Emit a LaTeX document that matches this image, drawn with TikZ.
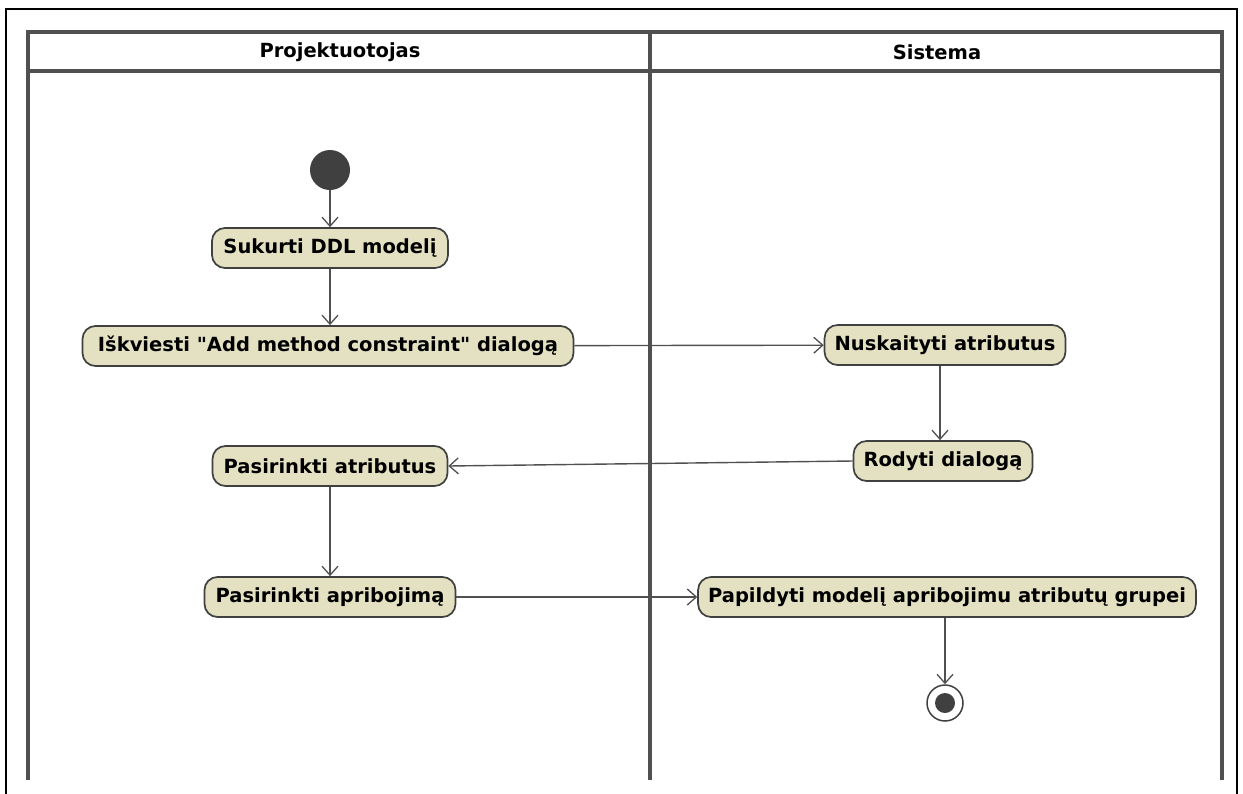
\documentclass[tikz,border=0pt]{standalone}
\usepackage{fontspec}
\setmainfont{DejaVu Sans}
\usetikzlibrary{arrows.meta}
% straight double quote, set as a glyph so no text mapping curls it
\newcommand\straightdq{\XeTeXglyph\XeTeXcharglyph"22\relax}
\definecolor{lane}{HTML}{505050}
\definecolor{actfill}{HTML}{E3E1C2}
\definecolor{actline}{HTML}{404040}
\definecolor{dot}{HTML}{404040}
\tikzset{
  act/.style={draw=actline, line width=1.7pt, fill=actfill, rounded corners=13pt,
    minimum height=40pt, inner xsep=10pt, inner ysep=0pt,
    font=\fontsize{19.5}{22}\selectfont\bfseries},
  flow/.style={draw=lane, line width=1.4pt, -{Straight Barb[length=9pt,width=16pt,line width=1.3pt]}},
  lanehead/.style={font=\fontsize{19.5}{22}\selectfont\bfseries}
}
\begin{document}
\begin{tikzpicture}[x=1pt,y=-1pt]
\useasboundingbox (0,0) rectangle (1243,793);
\fill[white] (0,0) rectangle (1243,793);
% outer frame
\draw[line width=2.5pt, black] (6,795) -- (6,9) -- (1237,9) -- (1237,795);
% swimlanes
\draw[lane, line width=3.5pt] (28,780) -- (28,32) -- (1222,32) -- (1222,780);
\draw[lane, line width=3.5pt] (28,71) -- (1222,71);
\draw[lane, line width=3.5pt] (650,32) -- (650,780);
\node[lanehead] (h1) at (340,52) {Projektuotojas};
\node[lanehead] (h2) at (937,52) {Sistema};
% start and end
\node[circle, fill=dot, minimum size=40pt, inner sep=0pt] (start) at (330,170) {};
\node[circle, draw=actline, fill=white, line width=1.5pt, minimum size=36pt, inner sep=0pt] (end) at (945,703) {};
\fill[dot] (end.center) circle (10pt);
% activities
\node[act, minimum width=236pt] (a1) at (330,248) {Sukurti DDL modelį};
\node[act, minimum width=491pt] (a2) at (328,346) {Iškviesti \straightdq Add method constraint\straightdq{} dialogą};
\node[act, minimum width=239pt] (b1) at (945,345) {Nuskaityti atributus};
\node[act, minimum width=173pt] (b2) at (943,461) {Rodyti dialogą};
\node[act, minimum width=235pt] (a3) at (330,466) {Pasirinkti atributus};
\node[act, minimum width=251pt] (a4) at (330,597) {Pasirinkti apribojimą};
\node[act, minimum width=495pt] (b3) at (947,597) {Papildyti modelį apribojimu atributų grupei};
% flows
\draw[flow] (start) -- (a1);
\draw[flow] (a1.south -| 330,0) -- (a2.north -| 330,0);
\draw[flow] (a2) -- (b1);
\draw[flow] (b1.south -| 940,0) -- (b2.north -| 940,0);
\draw[flow] (b2.west) -- (a3.east);
\draw[flow] (a3) -- (a4);
\draw[flow] (a4) -- (b3);
\draw[flow] (b3.south -| 945,0) -- (end);
\end{tikzpicture}
\end{document}
